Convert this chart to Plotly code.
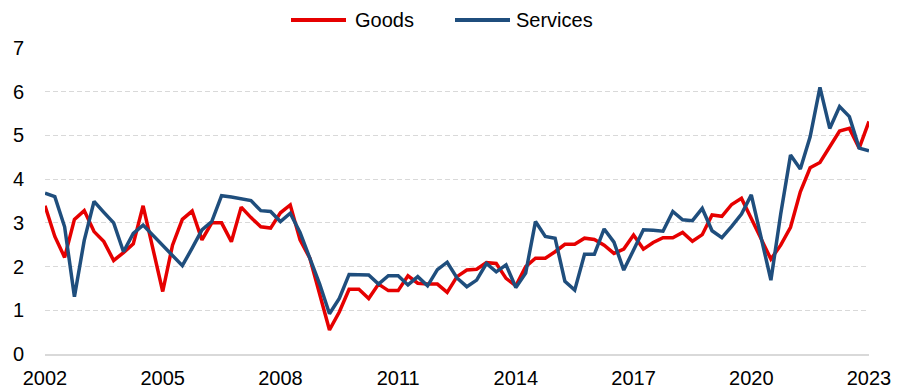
import plotly.graph_objects as go

start_year = 2002
quarters_per_year = 4

goods = [3.39, 2.69, 2.21, 3.08, 3.28, 2.80, 2.57, 2.14, 2.32, 2.52,
         3.39, 2.42, 1.43, 2.49, 3.08, 3.27, 2.61, 3.00, 3.00, 2.57,
         3.36, 3.12, 2.91, 2.88, 3.23, 3.41, 2.61, 2.19, 1.39, 0.55,
         0.96, 1.48, 1.48, 1.27, 1.60, 1.45, 1.45, 1.79, 1.62, 1.60,
         1.60, 1.41, 1.77, 1.92, 1.94, 2.09, 2.07, 1.73, 1.56, 2.00,
         2.19, 2.19, 2.34, 2.51, 2.51, 2.65, 2.62, 2.49, 2.30, 2.40,
         2.72, 2.40, 2.55, 2.66, 2.66, 2.78, 2.58, 2.73, 3.18, 3.15,
         3.42, 3.56, 3.10, 2.64, 2.17, 2.49, 2.90, 3.71, 4.26, 4.38,
         4.74, 5.10, 5.16, 4.71, 5.32]

services = [3.68, 3.60, 2.91, 1.31, 2.60, 3.49, 3.24, 3.00, 2.34, 2.76,
            2.95, 2.72, 2.49, 2.25, 2.02, 2.42, 2.84, 3.03, 3.62, 3.59,
            3.55, 3.51, 3.28, 3.26, 3.03, 3.22, 2.78, 2.20, 1.60, 0.92,
            1.27, 1.82, 1.82, 1.81, 1.60, 1.79, 1.79, 1.58, 1.77, 1.56,
            1.93, 2.10, 1.74, 1.54, 1.69, 2.07, 1.88, 2.04, 1.52, 1.85,
            3.03, 2.69, 2.65, 1.66, 1.46, 2.28, 2.28, 2.86, 2.56, 1.92,
            2.38, 2.84, 2.83, 2.81, 3.26, 3.07, 3.05, 3.33, 2.82, 2.66,
            2.92, 3.20, 3.64, 2.70, 1.69, 3.20, 4.55, 4.23, 4.97, 6.10,
            5.16, 5.66, 5.43, 4.71, 4.65]

series_names = ["Goods", "Services"]
series_colors = ["#e60000", "#1f4e7d"]

x_vals = [start_year + i / quarters_per_year for i in range(len(goods))]
tick_years = [2002, 2005, 2008, 2011, 2014, 2017, 2020, 2023]
y_ticks = [0, 1, 2, 3, 4, 5, 6, 7]

FONT = "Liberation Sans, Arial, sans-serif"
W, H = 906, 392

fig = go.Figure()
for name, vals, col in zip(series_names, [goods, services], series_colors):
    fig.add_trace(go.Scatter(x=x_vals, y=vals, mode="lines", name=name,
                             line=dict(color=col, width=3.5), showlegend=False))

# custom legend (longer line samples, as in the reference)
legend_items = [(291, 346, 353), (455, 510, 514)]
for (x0, x1, tx), name, col in zip(legend_items, series_names, series_colors):
    fig.add_shape(type="line", xref="paper", yref="paper",
                  x0=(x0 - 45) / (W - 45 - 37), x1=(x1 - 45) / (W - 45 - 37),
                  y0=(H - 38 - 20) / (H - 48 - 38), y1=(H - 38 - 20) / (H - 48 - 38),
                  line=dict(color=col, width=4))
    fig.add_annotation(xref="paper", yref="paper",
                       x=(tx - 45) / (W - 45 - 37), y=(H - 38 - 20) / (H - 48 - 38),
                       xanchor="left", yanchor="middle", text=name, showarrow=False,
                       font=dict(family=FONT, size=20, color="#000000"))

fig.update_layout(
    width=W, height=H,
    margin=dict(l=45, r=37, t=48, b=38, autoexpand=False),
    paper_bgcolor="white", plot_bgcolor="white",
    font=dict(family=FONT, size=20, color="#000000"),
    showlegend=False,
    xaxis=dict(range=[2002, 2023], tickvals=tick_years,
               ticktext=[str(y) for y in tick_years],
               showgrid=False, zeroline=False, showline=True,
               linecolor="#d9d9d9", linewidth=1.5, ticks="",
               ticklabelstandoff=5, automargin=False, fixedrange=True),
    yaxis=dict(range=[0, 7], tickvals=y_ticks, showgrid=True,
               gridcolor="#d9d9d9", gridwidth=1, griddash="5px,3px",
               zeroline=True, zerolinecolor="#d9d9d9", zerolinewidth=1.5,
               ticks="", ticklabelstandoff=20, automargin=False, fixedrange=True),
)

fig.write_html("out.html")
